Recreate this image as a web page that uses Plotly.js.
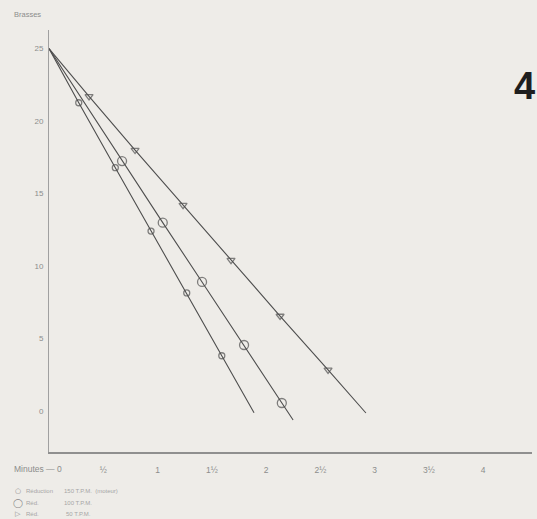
<!DOCTYPE html>
<html>
<head>
<meta charset="utf-8">
<script src="https://cdn.plot.ly/plotly-3.0.1.min.js"></script>
<style>html,body{margin:0;padding:0;background:#eeece8;}#chart{width:537px;height:519px;}</style>
</head>
<body>
<div id="chart"></div>
<script>
// Minutes and Brasses (depth) readings for each reduction speed
const t150 = [0, 0.274, 0.611, 0.940, 1.269, 1.592, 1.889];
const d150 = [25, 21.26, 16.78, 12.41, 8.14, 3.81, -0.12];
const t100 = [0, 0.673, 1.048, 1.410, 1.797, 2.145, 2.249];
const d100 = [25, 17.24, 12.99, 8.90, 4.55, 0.55, -0.62];
const t50 = [0, 0.369, 0.793, 1.235, 1.677, 2.129, 2.571, 2.920];
const d50 = [25, 21.70, 18.00, 14.20, 10.40, 6.55, 2.83, -0.14];

const xTickVals = [0.5, 1, 1.5, 2, 2.5, 3, 3.5, 4];
const xTickText = ['½', '1', '1½', '2', '2½', '3', '3½', '4'];
const yTickVals = [0, 5, 10, 15, 20, 25];

const legendSymbols = ['○', '◯', '▷'];
const legendNames = ['Réduction', 'Réd.', 'Réd.'];
const legendSpeeds = ['150 T.P.M.  (moteur)', '100 T.P.M.', '50 T.P.M.'];

function sizes(n, s) { return Array.from({length: n}, (_, i) => (i === 0 || i === n - 1) ? 0 : s); }

const lineCol = '#4e4e4e';
const traces = [
  {x: t150, y: d150, mode: 'lines+markers', line: {color: lineCol, width: 1.1},
   marker: {symbol: 'circle-open', size: sizes(t150.length, 6), color: lineCol, line: {width: 1.3}}},
  {x: t100, y: d100, mode: 'lines+markers', line: {color: lineCol, width: 1.1},
   marker: {symbol: 'circle-open', size: sizes(t100.length, 9), color: lineCol, line: {width: 1.3}}},
  {x: t50, y: d50, mode: 'lines+markers', line: {color: lineCol, width: 1.1},
   marker: {symbol: 'triangle-down-open', size: sizes(t50.length, 7), color: lineCol, line: {width: 1.3}}}
];

const font = 'Liberation Sans, Arial, sans-serif';
const W = 537, H = 519, L = 49, R = 5, T = 30, B = 67;
function px2paperX(px) { return (px - L) / (W - L - R); }
function px2paperY(py) { return (H - B - py) / (H - T - B); }

const annotations = [
  {text: 'Brasses', xref: 'paper', yref: 'paper', showarrow: false, xanchor: 'left', yanchor: 'middle',
   x: px2paperX(12), y: px2paperY(15), font: {family: font, size: 7.5, color: '#8c8c8c'}},
  {text: 'Minutes — 0', xref: 'paper', yref: 'paper', showarrow: false, xanchor: 'left', yanchor: 'middle',
   x: px2paperX(12), y: px2paperY(469), font: {family: font, size: 8.5, color: '#8c8c8c'}}
];

const rowsY = [491, 503, 514];
for (let i = 0; i < 3; i++) {
  annotations.push({text: legendSymbols[i], xref: 'paper', yref: 'paper', showarrow: false, xanchor: 'center', yanchor: 'middle',
    x: px2paperX(18), y: px2paperY(rowsY[i]), font: {family: 'DejaVu Sans', size: i === 1 ? 9 : 7, color: '#8a8a8a'}});
  annotations.push({text: legendNames[i], xref: 'paper', yref: 'paper', showarrow: false, xanchor: 'left', yanchor: 'middle',
    x: px2paperX(24), y: px2paperY(rowsY[i]), font: {family: font, size: 6, color: '#a6a6a6'}});
  annotations.push({text: legendSpeeds[i], xref: 'paper', yref: 'paper', showarrow: false, xanchor: 'left', yanchor: 'middle',
    x: px2paperX(i === 2 ? 64 : 62), y: px2paperY(rowsY[i]), font: {family: font, size: 6, color: '#a6a6a6'}});
}
annotations.push({text: '<b>4</b>', xref: 'paper', yref: 'paper', showarrow: false, xanchor: 'left', yanchor: 'middle',
  x: px2paperX(512), y: px2paperY(86), font: {family: font, size: 38, color: '#1e1e1e'}});

const layout = {
  width: W, height: H,
  margin: {l: L, r: R, t: T, b: B},
  paper_bgcolor: '#eeece8', plot_bgcolor: '#eeece8',
  showlegend: false,
  font: {family: font, color: '#8c8c8c'},
  xaxis: {range: [0, 4.45], tickvals: xTickVals, ticktext: xTickText, showgrid: false, zeroline: false,
    showline: true, linecolor: '#8f8f8f', linewidth: 1.5, ticks: 'outside', ticklen: 9, tickcolor: 'rgba(0,0,0,0)',
    tickfont: {family: font, size: 8.5, color: '#8c8c8c'}},
  yaxis: {range: [-2.83, 26.28], tickvals: yTickVals, showgrid: false, zeroline: false,
    showline: true, linecolor: '#a0a0a0', linewidth: 1, ticks: 'outside', ticklen: 3, tickcolor: 'rgba(0,0,0,0)',
    tickfont: {family: font, size: 8, color: '#8c8c8c'}},
  annotations: annotations
};

Plotly.newPlot('chart', traces, layout, {displayModeBar: false, staticPlot: true});
</script>
</body>
</html>
